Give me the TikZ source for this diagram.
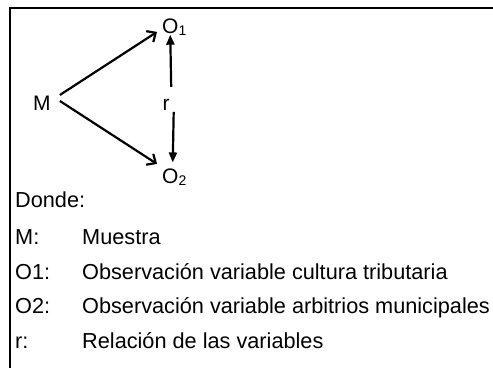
\documentclass[tikz,border=0pt]{standalone}
\usepackage{fontspec}
\setmainfont{Liberation Sans}
\usetikzlibrary{arrows.meta}
\tikzset{
  lbl/.style={inner sep=0pt, anchor=base west, font=\fontsize{21.7}{26}\selectfont, text=black},
  dg/.style={inner sep=0pt, anchor=base west, font=\fontsize{21}{24}\selectfont, text=black},
  diag/.style={line width=2.2pt, -{Straight Barb[length=7pt,width=13pt,line width=2.2pt]}},
  vert/.style={line width=2.2pt, -{Triangle[length=10pt,width=8pt]}},
  frame/.style={line width=2pt}
}
\newcommand{\subnum}[1]{\raisebox{-2.5pt}{\fontsize{14}{14}\selectfont #1}}
\begin{document}
\begin{tikzpicture}[x=1pt,y=-1pt]
\useasboundingbox (0,0) rectangle (493,368);
\fill[white] (0,0) rectangle (493,368);
% frame
\coordinate (tl) at (10,8);
\coordinate (tr) at (493,8);
\coordinate (bl) at (10,368);
\draw[frame] (tr) -- (tl) -- (bl);
% diagram
\node[dg] (M) at (33,110) {M};
\node[dg] (O1) at (162,33) {O\subnum{1}};
\node[dg] (O2) at (162,183) {O\subnum{2}};
\node[dg] (r) at (162.5,110) {r};
\draw[diag] ([xshift=9pt,yshift=7.8pt]M.east) -- ([xshift=-5pt,yshift=-5pt]O1.west);
\draw[diag] ([xshift=9pt,yshift=1.8pt]M.east) -- ([xshift=-5pt,yshift=13pt]O2.west);
\draw[vert] ([xshift=5pt,yshift=11.6pt]r.north) -- ([xshift=-4pt,yshift=1pt]O1.south);
\draw[vert] ([xshift=7.5pt,yshift=-1.7pt]r.south) -- ([xshift=-1.5pt,yshift=5.7pt]O2.north);
% legend
\node[lbl] (donde) at (15,207.5) {Donde:};
\node[lbl] (kM) at (15,244.5) {M:};
\node[lbl] (vM) at (82,244.5) {Muestra};
\node[lbl] (kO1) at (15,279.5) {O1:};
\node[lbl] (vO1) at (82,279.5) {Observación variable cultura tributaria};
\node[lbl] (kO2) at (15,313.5) {O2:};
\node[lbl] (vO2) at (82,313.5) {Observación variable arbitrios municipales};
\node[lbl] (kr) at (15,348.5) {r:};
\node[lbl] (vr) at (82,348.5) {Relación de las variables};
\end{tikzpicture}
\end{document}
